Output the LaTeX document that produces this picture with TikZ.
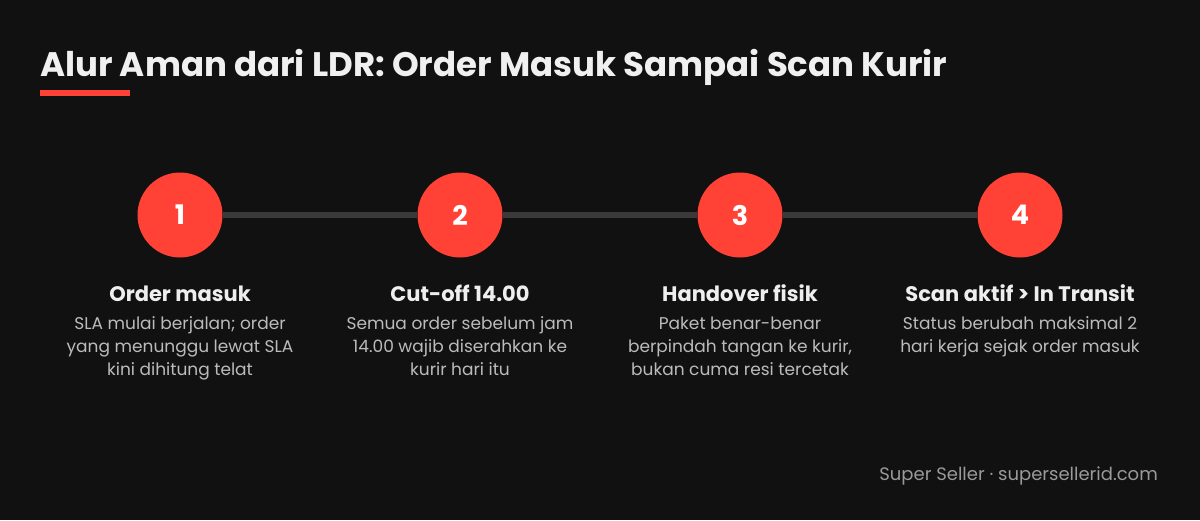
\documentclass[tikz,border=0pt]{standalone}
\usepackage{fontspec}
\setmainfont{Poppins}
\definecolor{bg}{HTML}{111111}
\definecolor{accent}{HTML}{FF4136}
\definecolor{track}{HTML}{3A3A3A}
\definecolor{titlec}{HTML}{F0F0F0}
\definecolor{headc}{HTML}{EEEEEE}
\definecolor{descc}{HTML}{BBBBBB}
\definecolor{footc}{HTML}{9A9A9A}
\begin{document}
\begin{tikzpicture}[x=1pt,y=-1pt,
  stepcircle/.style={circle,fill=accent,minimum size=85pt,inner sep=0pt,text=white,font=\fontsize{27}{30}\selectfont\bfseries},
  headtext/.style={text=headc,font=\fontsize{21}{24}\selectfont\bfseries,anchor=base},
  desctext/.style={text=descc,font=\fontsize{17}{23}\selectfont,align=center,anchor=north},
  trackline/.style={draw=track,line width=6pt}]
\fill[bg] (0,0) rectangle (1200,520);
\useasboundingbox (0,0) rectangle (1200,520);
\node[anchor=base west,inner sep=0pt,text=titlec,font=\fontsize{34}{38}\selectfont\bfseries] (title) at (40,76) {Alur Aman dari LDR: Order Masuk Sampai Scan Kurir};
\fill[accent] (40,90) rectangle (130,96);
\node[stepcircle] (c1) at (180,215) {1};
\node[stepcircle] (c2) at (460,215) {2};
\node[stepcircle] (c3) at (740,215) {3};
\node[stepcircle] (c4) at (1020,215) {4};
\draw[trackline] (c1.east) -- (c2.west);
\draw[trackline] (c2.east) -- (c3.west);
\draw[trackline] (c3.east) -- (c4.west);
\node[headtext] (h1) at (180,301) {Order masuk};
\node[headtext] (h2) at (460,301) {Cut-off 14.00};
\node[headtext] (h3) at (740,301) {Handover fisik};
\node[headtext] (h4) at (1020,301) {Scan aktif > In Transit};
\node[desctext] (d1) at (180,313) {SLA mulai berjalan; order\\yang menunggu lewat SLA\\kini dihitung telat};
\node[desctext] (d2) at (460,313) {Semua order sebelum jam\\14.00 wajib diserahkan ke\\kurir hari itu};
\node[desctext] (d3) at (740,313) {Paket benar-benar\\berpindah tangan ke kurir,\\bukan cuma resi tercetak};
\node[desctext] (d4) at (1020,313) {Status berubah maksimal 2\\hari kerja sejak order masuk};
\node[anchor=base east,inner sep=0pt,text=footc,font=\fontsize{18}{20}\selectfont] (foot) at (1158,480) {Super Seller · supersellerid.com};
\end{tikzpicture}
\end{document}
